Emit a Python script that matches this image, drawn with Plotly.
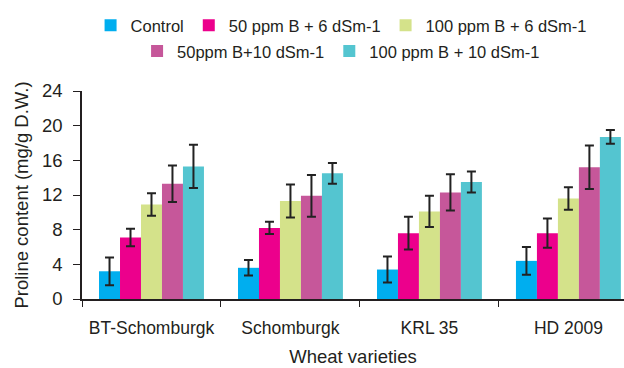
import plotly.graph_objects as go

categories = ["BT-Schomburgk", "Schomburgk", "KRL 35", "HD 2009"]
series_names = ["Control", "50 ppm B + 6 dSm-1", "100 ppm B + 6 dSm-1",
                "50ppm B+10 dSm-1", "100 ppm B + 10 dSm-1"]
colors = ["#00AEEF", "#EC008C", "#D4E28A", "#C6579A", "#54C5D0"]

control = [3.2, 3.6, 3.4, 4.4]
b50_6 = [7.1, 8.2, 7.6, 7.6]
b100_6 = [10.9, 11.3, 10.1, 11.6]
b50_10 = [13.3, 11.9, 12.3, 15.2]
b100_10 = [15.3, 14.5, 13.5, 18.7]

err_control = [1.6, 0.9, 1.5, 1.6]
err_50_6 = [1.0, 0.7, 1.9, 1.7]
err_100_6 = [1.3, 1.9, 1.8, 1.3]
err_50_10 = [2.1, 2.4, 2.1, 2.5]
err_100_10 = [2.5, 1.2, 1.2, 0.8]

values = [control, b50_6, b100_6, b50_10, b100_10]
errors = [err_control, err_50_6, err_100_6, err_50_10, err_100_10]

yticks = [0, 4, 8, 12, 16, 20, 24]

FONT = "Liberation Sans, Arial, sans-serif"
TXT = "#231f20"

fig = go.Figure()
for i, (name, vals, errs, col) in enumerate(zip(series_names, values, errors, colors)):
    fig.add_trace(go.Bar(
        x=categories, y=vals, name=name, marker=dict(color=col, line=dict(width=0)),
        error_y=dict(type="data", array=errs, visible=True, color="#222222", thickness=2, width=4.5),
        legend="legend" if i < 3 else "legend2",
    ))

fig.update_layout(
    width=624, height=368,
    margin=dict(l=82, r=0, t=91, b=69, autoexpand=False),
    paper_bgcolor="white", plot_bgcolor="white",
    barmode="group", bargap=0.245, bargroupgap=0,
    font=dict(family=FONT, color=TXT, size=17),
    legend=dict(orientation="h", x=0.478, xanchor="center", xref="paper",
                y=0.978, yref="container", yanchor="top",
                font=dict(size=16.5, family=FONT, color=TXT), itemwidth=30,
                bgcolor="rgba(0,0,0,0)", traceorder="normal"),
    legend2=dict(orientation="h", x=0.478, xanchor="center", xref="paper",
                 y=0.908, yref="container", yanchor="top",
                 font=dict(size=16.5, family=FONT, color=TXT), itemwidth=30,
                 bgcolor="rgba(0,0,0,0)", traceorder="normal"),
    xaxis=dict(range=[-0.5, 3.4], showline=True, linecolor="#231f20", linewidth=1.5,
               ticks="outside", tickson="boundaries", ticklen=6, tickcolor="#231f20",
               tickfont=dict(size=17.5), tickangle=0, showgrid=False, ticklabelstandoff=12,
               title=dict(text="Wheat varieties", font=dict(size=18.5), standoff=13)),
    yaxis=dict(range=[0, 24], tickvals=yticks, showline=True, linecolor="#231f20", linewidth=1.5,
               ticks="outside", ticklen=7, tickcolor="#231f20", showgrid=False, zeroline=False,
               tickfont=dict(size=18.5), ticklabelstandoff=7,
               title=dict(text="Proline content (mg/g D.W.)", font=dict(size=18.5), standoff=8)),
)

fig.write_html("out.html", config={"displayModeBar": False},
               post_script="document.body.style.margin='0';")
